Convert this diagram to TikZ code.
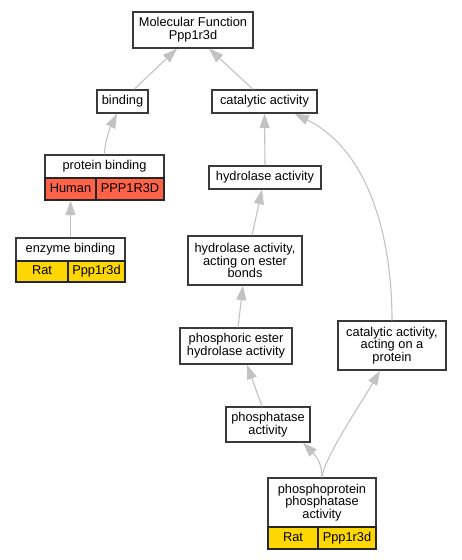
\documentclass[tikz,border=0pt]{standalone}
\usepackage{fontspec}
\setmainfont{Liberation Sans}
\usetikzlibrary{arrows.meta,calc}
\definecolor{bordercol}{HTML}{3A3A3A}
\definecolor{edgecol}{HTML}{C2C2C2}
\definecolor{humanred}{HTML}{FF6347}
\definecolor{ratgold}{HTML}{FFD700}
\begin{document}
\begin{tikzpicture}[x=1pt,y=-1pt,
  term/.style={draw=bordercol, line width=1.3pt, fill=white, align=center, inner sep=0pt,
    font=\fontsize{12.8}{12.7}\selectfont},
  one/.style={text height=9.4pt, text depth=2.8pt},
  human/.style={term, one, fill=humanred, draw=black!85},
  rat/.style={term, one, fill=ratgold, draw=black!85},
  isa/.style={draw=edgecol, line width=1.1pt, -{Triangle[length=14.5pt,width=10pt]}}
]
\useasboundingbox (0,0) rectangle (461,560);

% nodes
\node[term, minimum width=120pt, minimum height=36pt] (mf) at (193,30) {Molecular Function\\Ppp1r3d};
\node[term, one, minimum width=51pt, minimum height=23pt] (bind) at (122.5,101.5) {binding};
\node[term, one, minimum width=105pt, minimum height=23pt] (cat) at (264.5,101.5) {catalytic activity};

\node[term, one, minimum width=119pt, minimum height=23pt] (pb) at (104.5,166.5) {protein binding};
\node[human, minimum width=51pt, minimum height=22pt] (pbsp) at (70.5,189) {Human};
\node[human, minimum width=68pt, minimum height=22pt] (pbgene) at (130,189) {PPP1R3D};

\node[term, one, minimum width=112pt, minimum height=23pt] (ha) at (265,177.5) {hydrolase activity};

\node[term, one, minimum width=109pt, minimum height=23pt] (eb) at (70.5,249.5) {enzyme binding};
\node[rat, minimum width=52pt, minimum height=21pt] (ebsp) at (42,271.5) {Rat};
\node[rat, minimum width=57pt, minimum height=21pt] (ebgene) at (96.5,271.5) {Ppp1r3d};

\node[term, minimum width=114pt, minimum height=49pt] (he) at (245,260.5) {hydrolase activity,\\acting on ester\\bonds};
\node[term, minimum width=112pt, minimum height=36pt] (pe) at (236,346) {phosphoric ester\\hydrolase activity};
\node[term, minimum width=108pt, minimum height=49pt] (cp) at (392,345.5) {catalytic activity,\\acting on a\\protein};
\node[term, minimum width=84pt, minimum height=35pt] (pa) at (268,424.5) {phosphatase\\activity};

\node[term, minimum width=108pt, minimum height=49pt] (pp) at (322,502.5) {phosphoprotein\\phosphatase\\activity};
\node[rat, minimum width=50pt, minimum height=22pt] (ppsp) at (293,538) {Rat};
\node[rat, minimum width=58pt, minimum height=22pt] (ppgene) at (347,538) {Ppp1r3d};

% edges
\draw[isa] ($(bind.north)+(11.5,0)$) -- ($(mf.south)+(-16,0)$);
\draw[isa] ($(cat.north)+(-11.5,0)$) -- ($(mf.south)+(16,0)$);
\draw[isa] (pb.north) .. controls (105,140) and (110,128) .. ($(bind.south)+(-5.5,0)$);
\draw[isa] (ha.north) -- (cat.south);
\draw[isa] (cp.north) .. controls (392,235) and (368,150) .. ($(cat.south)+(30,0)$);
\draw[isa] (eb.north) -- (pbsp.south);
\draw[isa] ($(he.north)+(7,0)$) -- ($(ha.south)+(-3,0)$);
\draw[isa] ($(pe.north)+(2,0)$) -- ($(he.south)+(-2,0)$);
\draw[isa] ($(pa.north)+(-6,0)$) -- ($(pe.south)+(11,0)$);
\draw[isa] (pp.north) .. controls (322,462) and (315,455) .. ($(pa.south)+(35,0)$);
\draw[isa] (pp.north) .. controls (324,458) and (360,405) .. ($(cp.south)+(-12,0)$);
\end{tikzpicture}
\end{document}
